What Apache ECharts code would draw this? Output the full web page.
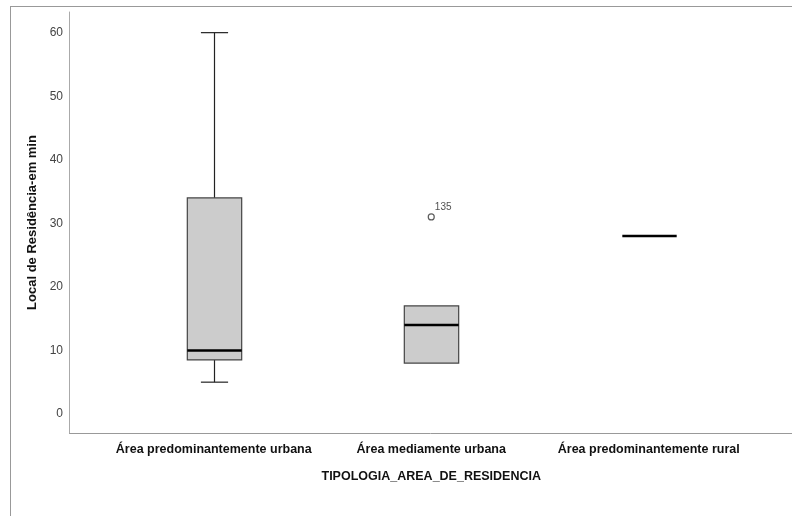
<!DOCTYPE html>
<html>
<head>
<meta charset="utf-8">
<script src="https://cdn.jsdelivr.net/npm/echarts@6/dist/echarts.min.js"></script>
<style>
html,body{margin:0;padding:0;background:#fff;}
#chart{width:792px;height:516px;}
</style>
</head>
<body>
<div id="chart"></div>
<script>
var categories = ['Área predominantemente urbana', 'Área mediamente urbana', 'Área predominantemente rural'];
// [min whisker, Q1, median, Q3, max whisker]
var boxMin    = [5, 8, 28];
var boxQ1     = [8.5, 8, 28];
var boxMedian = [10, 14, 28];
var boxQ3     = [34, 17, 28];
var boxMax    = [60, 17, 28];
var outlierCategory = [1];
var outlierValue = [31];
var outlierLabel = ['135'];
var yTicks = [0, 10, 20, 30, 40, 50, 60];

var boxData = categories.map(function (c, i) {
  return [i, boxMin[i], boxQ1[i], boxMedian[i], boxQ3[i], boxMax[i]];
});
var outlierData = outlierValue.map(function (v, i) {
  return { value: [outlierCategory[i], v], name: outlierLabel[i] };
});

var chart = echarts.init(document.getElementById('chart'));
var narrowBold = "'Liberation Sans Narrow', 'Arial Narrow', 'Liberation Sans', Arial, sans-serif";

chart.setOption({
  animation: false,
  backgroundColor: '#fff',
  grid: { left: 105, right: 34.5, top: 12, bottom: 83 },
  graphic: [
    { type: 'line', shape: { x1: 10, y1: 6.5, x2: 792, y2: 6.5 }, style: { stroke: '#999', lineWidth: 1 }, silent: true },
    { type: 'line', shape: { x1: 10.5, y1: 6, x2: 10.5, y2: 516 }, style: { stroke: '#999', lineWidth: 1 }, silent: true },
    { type: 'line', shape: { x1: 69, y1: 433.5, x2: 792, y2: 433.5 }, style: { stroke: '#999', lineWidth: 1 }, silent: true }
  ],
  xAxis: {
    type: 'category',
    data: categories,
    boundaryGap: true,
    axisLine: { show: false },
    axisTick: { show: false },
    axisLabel: { color: '#111', fontFamily: narrowBold, fontWeight: 'bold', fontSize: 12.5, margin: 10, interval: 0 },
    name: 'TIPOLOGIA_AREA_DE_RESIDENCIA',
    nameLocation: 'middle',
    nameGap: 37,
    nameTextStyle: { color: '#111', fontFamily: narrowBold, fontWeight: 'bold', fontSize: 12.5 }
  },
  yAxis: {
    type: 'value',
    min: -3,
    max: 63.25,
    offset: 36,
    splitLine: { show: false },
    axisLine: { show: true, lineStyle: { color: '#aaa', width: 1 } },
    axisTick: { show: false },
    axisLabel: { customValues: yTicks, color: '#444', fontFamily: 'Liberation Sans, Arial, sans-serif', fontSize: 12, margin: 6 },
    name: 'Local de Residência-em min',
    nameLocation: 'middle',
    nameGap: 30,
    nameRotate: 90,
    nameTextStyle: { color: '#111', fontFamily: 'Liberation Sans, Arial, sans-serif', fontWeight: 'bold', fontSize: 13 }
  },
  series: [
    {
      type: 'custom',
      data: boxData,
      encode: { x: 0, y: [1, 2, 3, 4, 5] },
      renderItem: function (params, api) {
        var xi = api.value(0);
        var band = api.size([1, 0])[0];
        var bw = band * 0.25;
        var cw = bw * 0.5;
        var pMin = api.coord([xi, api.value(1)]);
        var pQ1 = api.coord([xi, api.value(2)]);
        var pMed = api.coord([xi, api.value(3)]);
        var pQ3 = api.coord([xi, api.value(4)]);
        var pMax = api.coord([xi, api.value(5)]);
        var cx = Math.round(pMed[0]) + 0.5;
        var children = [];
        var stroke = { stroke: '#222', lineWidth: 1.2 };
        if (pQ3[1] - pMax[1] > 0.5) {
          children.push({ type: 'line', shape: { x1: cx, y1: pMax[1], x2: cx, y2: pQ3[1] }, style: stroke });
          children.push({ type: 'line', shape: { x1: cx - cw / 2, y1: pMax[1], x2: cx + cw / 2, y2: pMax[1] }, style: stroke });
        }
        if (pMin[1] - pQ1[1] > 0.5) {
          children.push({ type: 'line', shape: { x1: cx, y1: pQ1[1], x2: cx, y2: pMin[1] }, style: stroke });
          children.push({ type: 'line', shape: { x1: cx - cw / 2, y1: pMin[1], x2: cx + cw / 2, y2: pMin[1] }, style: stroke });
        }
        if (pQ1[1] - pQ3[1] > 0.5) {
          children.push({ type: 'rect', shape: { x: cx - bw / 2, y: pQ3[1], width: bw, height: pQ1[1] - pQ3[1] },
            style: { fill: '#cccccc', stroke: '#444', lineWidth: 1.2 } });
        }
        children.push({ type: 'line', shape: { x1: cx - bw / 2, y1: pMed[1], x2: cx + bw / 2, y2: pMed[1] },
          style: { stroke: '#000', lineWidth: 2.5 } });
        return { type: 'group', children: children };
      },
      z: 2
    },
    {
      type: 'scatter',
      data: outlierData,
      symbol: 'circle',
      symbolSize: 6,
      itemStyle: { color: '#fff', borderColor: '#333', borderWidth: 1.2 },
      label: {
        show: true,
        formatter: function (p) { return p.name; },
        position: 'right',
        offset: [-5, -10],
        color: '#222',
        fontSize: 10,
        fontFamily: 'Liberation Sans, Arial, sans-serif'
      },
      z: 3
    }
  ]
});
</script>
</body>
</html>
